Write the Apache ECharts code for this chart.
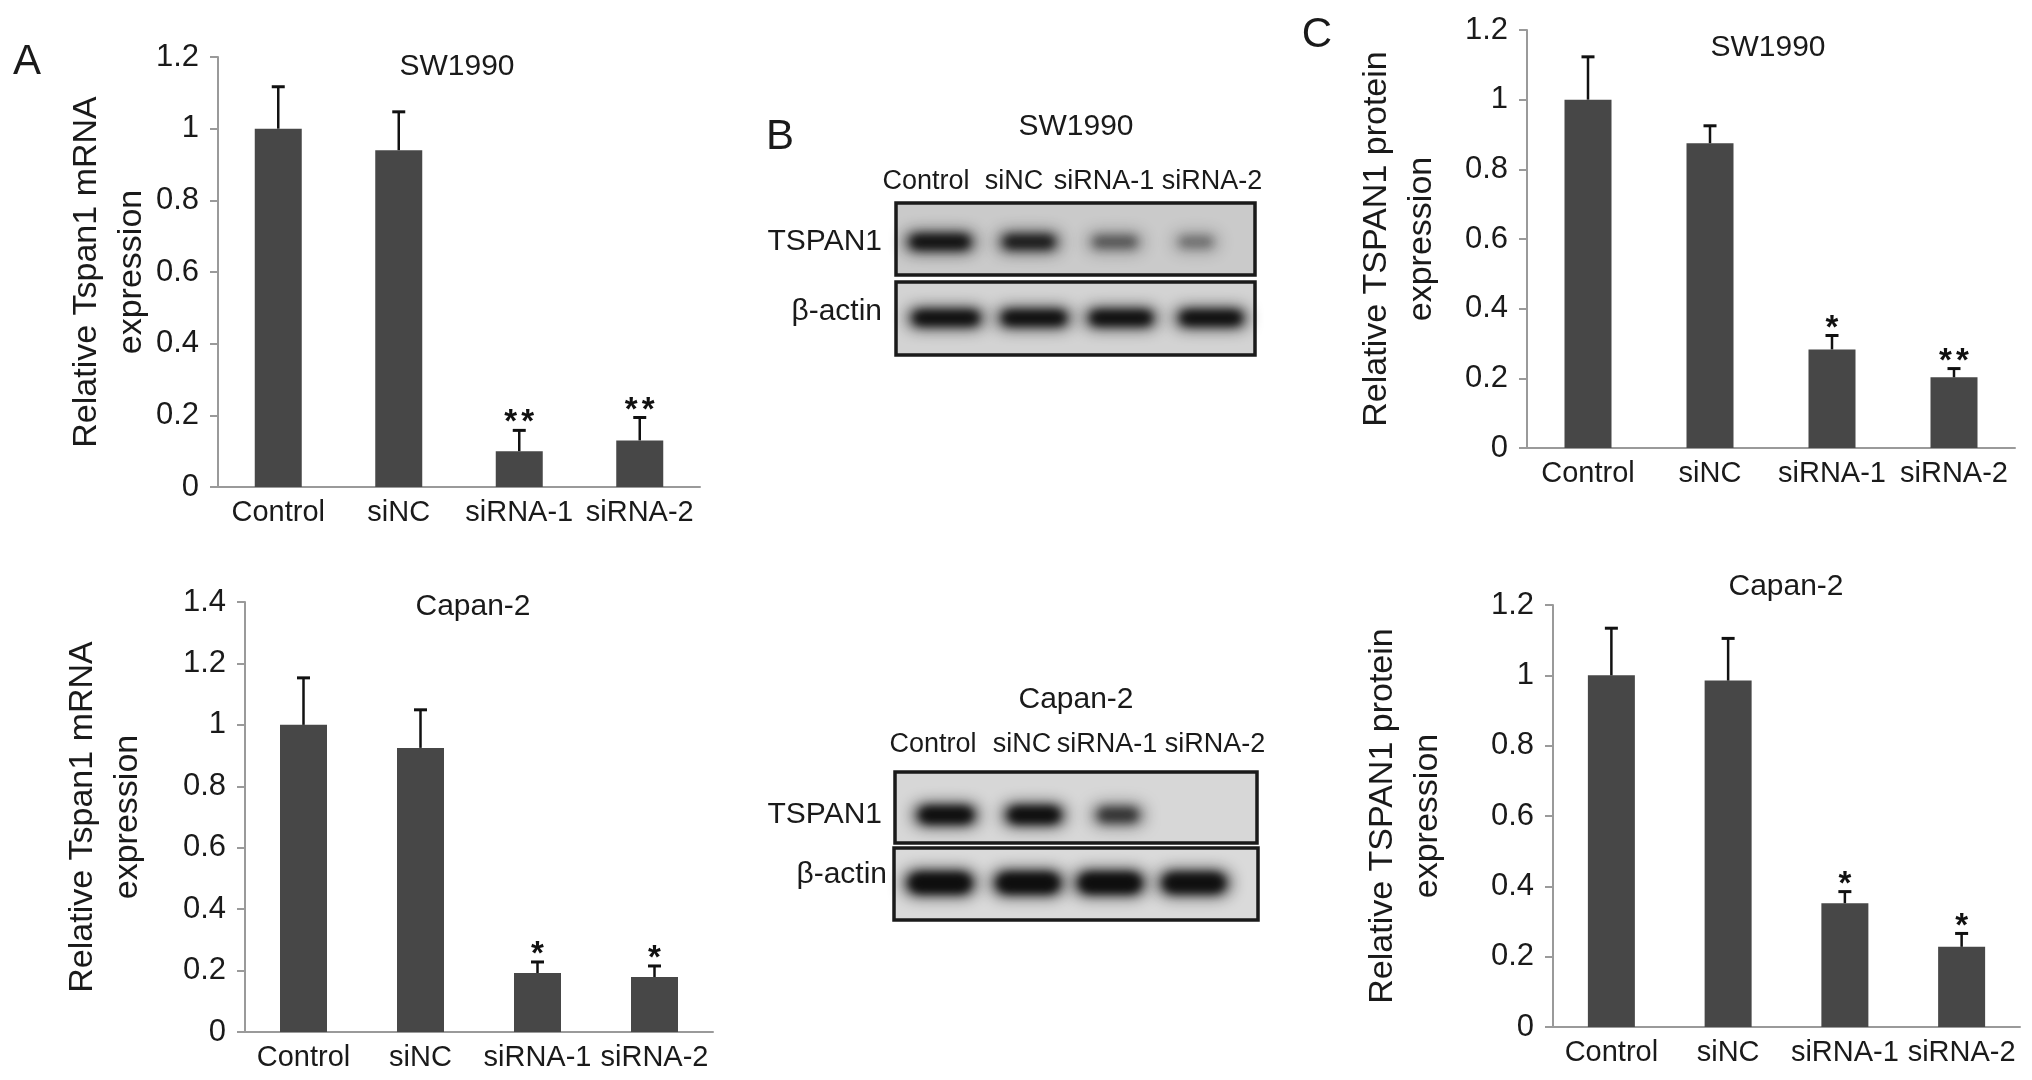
<!DOCTYPE html>
<html><head><meta charset="utf-8">
<script src="https://cdn.jsdelivr.net/npm/echarts@6/dist/echarts.min.js"></script>
<style>html,body{margin:0;padding:0;background:#fff}#c{width:2032px;height:1080px}</style>
</head><body><div id="c"></div>
<script>
// ---------- data ----------
const categories = ['Control', 'siNC', 'siRNA-1', 'siRNA-2'];

const mrnaSW1990 = [1.00, 0.94, 0.10, 0.13];
const mrnaSW1990Err = [0.117, 0.107, 0.058, 0.064];
const mrnaSW1990Sig = ['', '', '**', '**'];

const mrnaCapan2 = [1.00, 0.925, 0.192, 0.179];
const mrnaCapan2Err = [0.153, 0.124, 0.036, 0.036];
const mrnaCapan2Sig = ['', '', '*', '*'];

const protSW1990 = [1.00, 0.875, 0.283, 0.203];
const protSW1990Err = [0.123, 0.050, 0.040, 0.025];
const protSW1990Sig = ['', '', '*', '**'];

const protCapan2 = [1.00, 0.985, 0.352, 0.228];
const protCapan2Err = [0.134, 0.120, 0.033, 0.038];
const protCapan2Sig = ['', '', '*', '*'];

const ticksTo12 = [0, 0.2, 0.4, 0.6, 0.8, 1, 1.2];
const ticksTo14 = [0, 0.2, 0.4, 0.6, 0.8, 1, 1.2, 1.4];

const mrnaAxisName = 'Relative Tspan1 mRNA\nexpression';
const protAxisName = 'Relative TSPAN1 protein\nexpression';

// western blot: lane labels, row labels, band intensities (0..1)
const blotLanes = ['Control', 'siNC', 'siRNA-1', 'siRNA-2'];
const blotRows = ['TSPAN1', 'β-actin'];
const sw1990Tspan1Band = [0.95, 0.82, 0.42, 0.30];
const sw1990ActinBand = [1.0, 1.0, 1.0, 1.0];
const capan2Tspan1Band = [1.0, 1.0, 0.62, 0.0];
const capan2ActinBand = [1.0, 1.0, 1.0, 0.95];

// ---------- styling / layout ----------
const FONT = 'Liberation Sans, Arial, Helvetica, sans-serif';
const TXT = '#1a1a1a';
const BAR = '#474747';
const AXIS = '#9a9a9a';

const grids = [
  { left: 218, top: 57, width: 482, height: 430, nameGap: 64 },   // A SW1990
  { left: 245, top: 602, width: 468, height: 430, nameGap: 95 },  // A Capan-2
  { left: 1527, top: 30, width: 488, height: 418, nameGap: 83 },  // C SW1990
  { left: 1553, top: 605, width: 467, height: 422, nameGap: 103 } // C Capan-2
];
const panels = [
  { vals: mrnaSW1990, errs: mrnaSW1990Err, sig: mrnaSW1990Sig, ticks: ticksTo12, name: mrnaAxisName },
  { vals: mrnaCapan2, errs: mrnaCapan2Err, sig: mrnaCapan2Sig, ticks: ticksTo14, name: mrnaAxisName },
  { vals: protSW1990, errs: protSW1990Err, sig: protSW1990Sig, ticks: ticksTo12, name: protAxisName },
  { vals: protCapan2, errs: protCapan2Err, sig: protCapan2Sig, ticks: ticksTo12, name: protAxisName }
];

function errSeries(idx, p) {
  return {
    type: 'custom', xAxisIndex: idx, yAxisIndex: idx, z: 5, silent: true,
    data: p.vals.map((v, i) => [i, v, v + p.errs[i]]),
    renderItem: function (params, api) {
      const i = api.value(0);
      const a = api.coord([i, api.value(1)]);
      const b = api.coord([i, api.value(2)]);
      const hw = 6.5;
      const ch = [
        { type: 'line', shape: { x1: a[0], y1: a[1], x2: b[0], y2: b[1] }, style: { stroke: '#111', lineWidth: 2.5 } },
        { type: 'line', shape: { x1: b[0] - hw, y1: b[1], x2: b[0] + hw, y2: b[1] }, style: { stroke: '#111', lineWidth: 3 } }
      ];
      const s = p.sig[params.dataIndex];
      if (s) {
        const n = s.length, gap = 17;
        for (let k = 0; k < n; k++) {
          const dx = (k - (n - 1) / 2) * gap;
          ch.push({
            type: 'text',
            style: { text: '*', x: b[0] + dx, y: b[1] - 7, fill: '#111', font: 'bold 33px ' + FONT,
                     align: 'center', verticalAlign: 'middle', textAlign: 'center', textVerticalAlign: 'middle' }
          });
        }
      }
      return { type: 'group', children: ch };
    }
  };
}

const option = {
  backgroundColor: '#fff',
  animation: false,
  grid: grids.map(g => ({ left: g.left, top: g.top, width: g.width, height: g.height, containLabel: false, outerBoundsMode: 'none' })),
  xAxis: grids.map((g, i) => ({
    type: 'category', gridIndex: i, data: categories,
    axisLine: { show: true, lineStyle: { color: AXIS, width: 2 } },
    axisTick: { show: false },
    axisLabel: { color: TXT, fontSize: 29, fontFamily: FONT, margin: 11, interval: 0 },
    splitLine: { show: false }
  })),
  yAxis: grids.map((g, i) => {
    const t = panels[i].ticks;
    return {
      type: 'value', gridIndex: i,
      min: t[0], max: t[t.length - 1], interval: t[1] - t[0],
      name: panels[i].name, nameLocation: 'middle', nameRotate: 90, nameGap: g.nameGap,
      nameMoveOverlap: false,
      nameTextStyle: { color: TXT, fontSize: 34, fontFamily: FONT, lineHeight: 45, align: 'center' },
      axisLine: { show: true, lineStyle: { color: AXIS, width: 2 } },
      axisTick: { show: true, length: 8, lineStyle: { color: AXIS, width: 2 } },
      axisLabel: { color: TXT, fontSize: 31, fontFamily: FONT, margin: 19 },
      splitLine: { show: false }
    };
  }),
  series: [],
  graphic: { elements: [] }
};

panels.forEach((p, i) => {
  option.series.push({
    type: 'bar', xAxisIndex: i, yAxisIndex: i, data: p.vals, barWidth: 47,
    itemStyle: { color: BAR }, silent: true, z: 2
  });
  option.series.push(errSeries(i, p));
});

// ---------- free text ----------
function txt(text, x, y, size, align) {
  return {
    type: 'text', x: x, y: y, silent: true, z: 10,
    style: { text: text, fill: TXT, font: size + 'px ' + FONT,
             align: align || 'center', verticalAlign: 'middle',
             textAlign: align || 'center', textVerticalAlign: 'middle' }
  };
}
const G = option.graphic.elements;
G.push(txt('A', 27, 62, 42), txt('B', 780, 137, 42), txt('C', 1317, 35, 42));
G.push(txt('SW1990', 457, 67, 30), txt('Capan-2', 473, 607, 30));
G.push(txt('SW1990', 1768, 48, 30), txt('Capan-2', 1786, 587, 30));

// ---------- western blots ----------
const OFF = 3000;
function blot(cfg) {
  G.push(txt(cfg.title, cfg.titleX, cfg.titleY, 30));
  blotLanes.forEach((l, i) => G.push(txt(l, cfg.laneX[i], cfg.laneY, 27)));
  cfg.rows.forEach((r, ri) => {
    G.push(txt(blotRows[ri], r.labelX, r.labelY, 30, 'right'));
    G.push({ type: 'rect', silent: true, shape: { x: r.x, y: r.y, width: r.w, height: r.h },
             style: { fill: r.bg }, z: 1 });
    r.bands.forEach((v, bi) => {
      if (v <= 0) return;
      const w = r.bw[bi], h = r.bh;
      const col = 'rgba(14,14,14,' + v.toFixed(2) + ')';
      // soft band: only the blurred shadow of an off-screen shape is visible
      G.push({ type: 'rect', silent: true, z: 2,
        shape: { x: r.cx[bi] - w / 2 + 8 + OFF, y: r.cy - h / 2 + 6, width: w - 16, height: h - 12, r: (h - 12) / 2 },
        style: { fill: '#000', shadowBlur: 16, shadowColor: col, shadowOffsetX: -OFF, shadowOffsetY: 0 } });
      G.push({ type: 'rect', silent: true, z: 2,
        shape: { x: r.cx[bi] - w / 2 + 14 + OFF, y: r.cy - h / 2 + 9, width: w - 28, height: h - 18, r: (h - 18) / 2 },
        style: { fill: '#000', shadowBlur: 8, shadowColor: col, shadowOffsetX: -OFF, shadowOffsetY: 0 } });
    });
    G.push({ type: 'rect', silent: true, shape: { x: r.x, y: r.y, width: r.w, height: r.h },
             style: { fill: null, stroke: '#1a1a1a', lineWidth: 3.5 }, z: 3 });
  });
}
blot({
  title: 'SW1990', titleX: 1076, titleY: 127,
  laneX: [926, 1014, 1104, 1212], laneY: 182,
  rows: [
    { labelX: 882, labelY: 242, x: 896, y: 203, w: 359, h: 72, bg: '#cacaca',
      cy: 242, bh: 30, cx: [940, 1029, 1115, 1196], bw: [86, 78, 72, 62], bands: sw1990Tspan1Band },
    { labelX: 882, labelY: 312, x: 896, y: 282, w: 359, h: 73, bg: '#d3d3d3',
      cy: 318, bh: 30, cx: [946, 1034, 1121, 1211], bw: [92, 90, 88, 88], bands: sw1990ActinBand }
  ]
});
blot({
  title: 'Capan-2', titleX: 1076, titleY: 700,
  laneX: [933, 1022, 1107, 1215], laneY: 745,
  rows: [
    { labelX: 882, labelY: 815, x: 895, y: 772, w: 362, h: 71, bg: '#d7d7d7',
      cy: 815, bh: 32, cx: [946, 1034, 1118, 1200], bw: [80, 78, 68, 60], bands: capan2Tspan1Band },
    { labelX: 887, labelY: 875, x: 894, y: 848, w: 364, h: 72, bg: '#dadada',
      cy: 883, bh: 36, cx: [940, 1028, 1110, 1194], bw: [88, 88, 88, 88], bands: capan2ActinBand }
  ]
});

const chart = echarts.init(document.getElementById('c'), null, { renderer: 'canvas', width: 2032, height: 1080 });
chart.setOption(option);
</script>
</body></html>
